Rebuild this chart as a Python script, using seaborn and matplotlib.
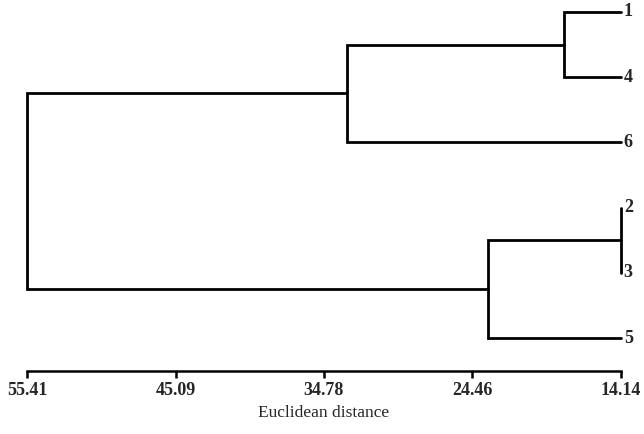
import matplotlib
matplotlib.use("Agg")
import matplotlib.pyplot as plt
import seaborn as sns

# leaves, top to bottom
leaves = ["1", "4", "6", "2", "3", "5"]
# merges: (left child, right child, distance); children are leaf names or merge indices
merge_left = ["1", "2", 0, 1, 2]
merge_right = ["4", "3", "6", "5", 3]
merge_dist = [18.10, 14.14, 33.15, 23.37, 55.41]
tick_vals = [55.41, 45.09, 34.78, 24.46, 14.14]
leaf_dist = 14.14

sns.set_style("white")
plt.rcParams["font.family"] = ["Liberation Serif", "DejaVu Serif"]

fig = plt.figure(figsize=(6.44, 4.34), dpi=100)
ax = fig.add_axes([27 / 644, 1 - 371 / 434, 594 / 644, 371 / 434])

pos = {name: i for i, name in enumerate(leaves)}
height = {name: leaf_dist for name in leaves}

for k, (a, b, d) in enumerate(zip(merge_left, merge_right, merge_dist)):
    ya, yb = pos[a], pos[b]
    xa, xb = height[a], height[b]
    ax.plot([xa, d, d, xb], [ya, ya, yb, yb], color="black", lw=2.0,
            solid_joinstyle="miter", clip_on=False)
    pos[k] = (ya + yb) / 2
    height[k] = d

for name in leaves:
    ax.annotate(name, (leaf_dist, pos[name]), xytext=(2, 0), textcoords="offset points",
                ha="left", va="center", fontsize=13, fontweight="bold",
                annotation_clip=False)

ax.set_xlim(55.41, 14.14)
ax.set_ylim(5.506, -0.184)
ax.set_xticks(tick_vals)
ax.set_xticklabels([f"{v:.2f}" for v in tick_vals], fontsize=13, fontweight="bold")
ax.set_yticks([])
ax.tick_params(axis="x", direction="out", length=5, width=1.8, color="black", pad=3, bottom=True)
for s in ["top", "right", "left"]:
    ax.spines[s].set_visible(False)
ax.spines["bottom"].set_color("black")
ax.spines["bottom"].set_linewidth(1.8)
ax.set_xlabel("Euclidean distance", fontsize=12.5, labelpad=4)
ax.patch.set_alpha(0)

fig.savefig("out.png", dpi=100)
